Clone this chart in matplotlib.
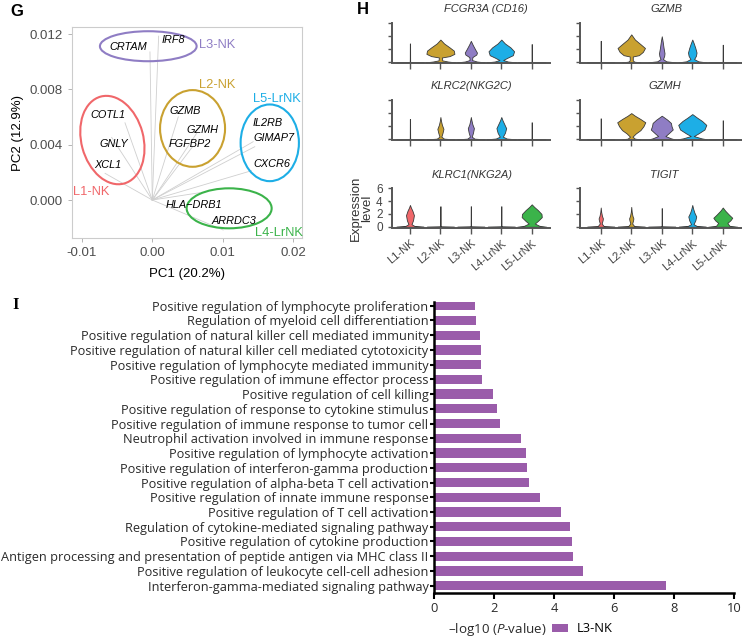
import numpy as np
import matplotlib
matplotlib.use("Agg")
import matplotlib.pyplot as plt
from matplotlib.patches import Ellipse, Patch
from matplotlib.transforms import ScaledTranslation

plt.rcParams['font.family'] = ['Liberation Sans', 'DejaVu Sans']
plt.rcParams['axes.unicode_minus'] = False
plt.rcParams['mathtext.fontset'] = 'custom'
plt.rcParams['mathtext.rm'] = 'Open Sans'
plt.rcParams['mathtext.it'] = 'Open Sans:italic'

# ---------------- data: panel G (PCA biplot) ----------------
genes = ["CRTAM", "IRF8", "COTL1", "GNLY", "XCL1", "GZMB", "GZMH", "FGFBP2",
         "IL2RB", "GIMAP7", "CXCR6", "HLA\u2212DRB1", "ARRDC3"]
gene_pc1 = [-0.00033, 0.0009, -0.00388, -0.00577, -0.00671, 0.00369, 0.00629,
            0.00572, 0.01433, 0.01456, 0.01409, 0.00676, 0.01007]
gene_pc2 = [0.01072, 0.01186, 0.00559, 0.00453, 0.00193, 0.00602, 0.00482,
            0.00386, 0.00422, 0.00386, 0.00212, 0.00053, -0.00217]

groups = ["L1-NK", "L2-NK", "L3-NK", "L4-LrNK", "L5-LrNK"]
# colours as used in the PCA panel and in the violin panel (they differ for L4/L5)
pca_colors = ["#F0676A", "#C9A130", "#8F7DC4", "#3BB34A", "#1DAEE6"]
vln_colors = ["#F0676A", "#C9A130", "#8F7DC4", "#1DAEE6", "#3BB34A"]

# ---------------- data: panel H (violin profiles: (level, half width)) ----------------
def zero(top):
    return [(0, 0.45), (0.05, 0.03), (0.12, 0.006), (top, 0.004)]

vln_fcgr3a = [
    zero(2.9),
    [(0, 0.48), (0.12, 0.25), (0.3, 0.06), (0.75, 0.05), (0.95, 0.3), (1.3, 0.46), (1.8, 0.44), (2.3, 0.3), (2.9, 0.12), (3.5, 0)],
    [(0, 0.45), (0.12, 0.2), (0.35, 0.04), (0.8, 0.05), (1.2, 0.18), (1.5, 0.2), (2.0, 0.14), (2.7, 0.06), (3.3, 0)],
    [(0, 0.48), (0.12, 0.22), (0.35, 0.06), (0.7, 0.2), (1.1, 0.38), (1.7, 0.42), (2.3, 0.3), (2.9, 0.12), (3.5, 0)],
    zero(2.8),
]
vln_klrc2 = [
    zero(3.1),
    [(0, 0.45), (0.1, 0.12), (0.4, 0.03), (1.0, 0.07), (1.6, 0.1), (2.2, 0.05), (2.8, 0.02), (3.4, 0)],
    [(0, 0.45), (0.1, 0.12), (0.4, 0.03), (1.0, 0.07), (1.7, 0.1), (2.3, 0.05), (2.9, 0.02), (3.4, 0)],
    [(0, 0.48), (0.12, 0.18), (0.4, 0.05), (1.0, 0.12), (1.7, 0.16), (2.3, 0.1), (2.9, 0.04), (3.4, 0)],
    zero(2.6),
]
vln_klrc1 = [
    [(0, 0.45), (0.12, 0.15), (0.4, 0.05), (1.0, 0.1), (1.8, 0.13), (2.5, 0.08), (3.0, 0.03), (3.4, 0)],
    zero(3.2),
    zero(3.2),
    zero(3.2),
    [(0, 0.48), (0.15, 0.25), (0.5, 0.1), (0.9, 0.2), (1.5, 0.33), (2.0, 0.32), (2.6, 0.2), (3.1, 0.08), (3.5, 0)],
]
vln_gzmb = [
    zero(3.3),
    [(0, 0.3), (0.1, 0.1), (0.3, 0.05), (0.9, 0.05), (1.1, 0.25), (1.6, 0.38), (2.2, 0.45), (2.8, 0.3), (3.5, 0.12), (4.3, 0)],
    [(0, 0.45), (0.15, 0.15), (0.5, 0.04), (1.0, 0.08), (1.4, 0.09), (2.2, 0.06), (3.2, 0.03), (4.0, 0)],
    [(0, 0.45), (0.15, 0.2), (0.5, 0.06), (1.0, 0.12), (1.5, 0.14), (2.2, 0.1), (2.9, 0.05), (3.5, 0)],
    zero(2.7),
]
vln_gzmh = [
    zero(3.2),
    [(0, 0.3), (0.1, 0.12), (0.4, 0.04), (0.9, 0.15), (1.4, 0.3), (2.0, 0.4), (2.6, 0.46), (3.1, 0.3), (3.6, 0.12), (4.0, 0)],
    [(0, 0.42), (0.15, 0.3), (0.5, 0.12), (0.9, 0.22), (1.5, 0.36), (2.0, 0.32), (2.5, 0.3), (3.0, 0.18), (3.6, 0)],
    [(0, 0.48), (0.15, 0.3), (0.5, 0.05), (0.9, 0.2), (1.5, 0.4), (2.2, 0.46), (2.8, 0.32), (3.3, 0.16), (3.85, 0)],
    zero(2.9),
]
vln_tigit = [
    [(0, 0.45), (0.1, 0.1), (0.5, 0.03), (1.0, 0.06), (1.3, 0.07), (1.7, 0.04), (2.3, 0.015), (3.0, 0)],
    [(0, 0.45), (0.1, 0.1), (0.5, 0.03), (1.0, 0.06), (1.3, 0.07), (1.7, 0.04), (2.3, 0.015), (3.1, 0)],
    zero(2.9),
    [(0, 0.45), (0.12, 0.15), (0.4, 0.04), (1.0, 0.1), (1.6, 0.13), (2.2, 0.07), (2.8, 0.03), (3.4, 0)],
    [(0, 0.48), (0.15, 0.22), (0.6, 0.15), (1.0, 0.25), (1.4, 0.31), (1.9, 0.2), (2.5, 0.08), (3.0, 0)],
]
vln_titles = ["FCGR3A (CD16)", "KLRC2(NKG2C)", "KLRC1(NKG2A)", "GZMB", "GZMH", "TIGIT"]
vln_data = [vln_fcgr3a, vln_klrc2, vln_klrc1, vln_gzmb, vln_gzmh, vln_tigit]

# ---------------- data: panel I (GO enrichment, L3-NK) ----------------
go_terms = [
    "Positive regulation of lymphocyte proliferation",
    "Regulation of myeloid cell differentiation",
    "Positive regulation of natural killer cell mediated immunity",
    "Positive regulation of natural killer cell mediated cytotoxicity",
    "Positive regulation of lymphocyte mediated immunity",
    "Positive regulation of immune effector process",
    "Positive regulation of cell killing",
    "Positive regulation of response to cytokine stimulus",
    "Positive regulation of immune response to tumor cell",
    "Neutrophil activation involved in immune response",
    "Positive regulation of lymphocyte activation",
    "Positive regulation of interferon-gamma production",
    "Positive regulation of alpha-beta T cell activation",
    "Positive regulation of innate immune response",
    "Positive regulation of T cell activation",
    "Regulation of cytokine-mediated signaling pathway",
    "Positive regulation of cytokine production",
    "Antigen processing and presentation of peptide antigen via MHC class II",
    "Positive regulation of leukocyte cell-cell adhesion",
    "Interferon-gamma-mediated signaling pathway",
]
go_logp = [1.38, 1.41, 1.52, 1.58, 1.58, 1.59, 1.96, 2.11, 2.2, 2.9,
           3.07, 3.11, 3.18, 3.54, 4.24, 4.54, 4.58, 4.64, 4.97, 7.73]

W, H = 742, 639
fig = plt.figure(figsize=(W / 100, H / 100), dpi=100)


def fbox(left, top, right, bottom):
    return [left / W, 1 - bottom / H, (right - left) / W, (bottom - top) / H]


# ================= Panel G =================
axg = fig.add_axes(fbox(71.7, 27.3, 302, 238.3))
axg.set_xlim(-0.01145, 0.02127)
axg.set_ylim(-0.00277, 0.0125)
for s in axg.spines.values():
    s.set_color("#cccccc")
    s.set_linewidth(0.8)
axg.set_xticks([-0.01, 0.0, 0.01, 0.02])
axg.set_xticklabels(["-0.01", "0.00", "0.01", "0.02"])
axg.set_yticks([0.0, 0.004, 0.008, 0.012])
axg.set_yticklabels(["0.000", "0.004", "0.008", "0.012"])
axg.tick_params(colors="#4d4d4d", labelsize=9.5, length=3, width=0.6)
axg.tick_params(axis="both", color="#aaaaaa")
axg.set_xlabel("PC1 (20.2%)", fontsize=9.5, labelpad=6)
axg.set_ylabel("PC2 (12.9%)", fontsize=9.5, labelpad=4)

for x, y in zip(gene_pc1, gene_pc2):
    axg.plot([0, x], [0, y], color="#cfcfcf", lw=0.6, zorder=1)

label_offsets = [(-22, 5), (15, -4), (-17, 8), (2, -7), (3, 8), (7, 6), (6, 3),
                 (-3, 3), (14, 19), (19, 9), (20, 7), (-6, -12), (11, 9)]
for g, x, y, (dx, dy) in zip(genes, gene_pc1, gene_pc2, label_offsets):
    axg.annotate(g, (x, y), xytext=(dx * 0.72, dy * 0.72), textcoords="offset points",
                 ha="center", va="center", fontsize=7.8, style="italic", zorder=3)

# ellipses: centre (data), width/height (px), angle
ellipses = [((-0.00567, 0.00434), 62, 90, 15),
            ((0.00572, 0.00518), 65, 76.7, 0),
            ((-0.00057, 0.01113), 96.7, 30, 0),
            ((0.01092, -0.0006), 85, 40, 0),
            ((0.01669, 0.00414), 58.3, 76.7, 0)]
for (c, w, h, a), col in zip(ellipses, pca_colors):
    tr = fig.dpi_scale_trans + ScaledTranslation(c[0], c[1], axg.transData)
    axg.add_patch(Ellipse((0, 0), w / 100, h / 100, angle=a, transform=tr,
                          fill=False, edgecolor=col, lw=1.5, zorder=2))

group_label_pos = [(-0.0112, 0.0006), (0.00667, 0.00836), (0.00662, 0.0112),
                   (0.01456, -0.0024), (0.01433, 0.0073)]
for g, (x, y), col in zip(groups, group_label_pos, pca_colors):
    axg.text(x, y, g, color=col, fontsize=9.3, ha="left", va="center", clip_on=False)

fig.text(10 / W, 1 - 12 / H, "G", fontsize=12, fontweight="bold", va="center")

# ================= Panel H =================
col_x = [(391.7, 550.0, -0.6, 4.6), (580.0, 741.7, -0.68, 4.62)]
row_y = [(23.3, 63.3), (100.0, 140.3), (188.3, 227.7)]
title_x = [0.596, 0.507, 0.507, 0.536, 0.522, 0.518]
for k, (title, vdata) in enumerate(zip(vln_titles, vln_data)):
    ci, ri = k // 3, k % 3
    l, r, xl, xr = col_x[ci]
    t, b = row_y[ri]
    ax = fig.add_axes(fbox(l, t, r, b))
    for i, (knots, col) in enumerate(zip(vdata, vln_colors)):
        ys = np.array([p[0] for p in knots])
        ws = np.array([p[1] for p in knots])
        ax.fill_betweenx(ys, i - ws, i + ws, facecolor=col, edgecolor="#3a3a3a",
                         lw=0.6, zorder=2)
    ax.set_xlim(xl, xr)
    ax.set_ylim(-0.15, 6)
    for s in ["top", "right"]:
        ax.spines[s].set_visible(False)
    for s in ["left", "bottom"]:
        ax.spines[s].set_color("#555555")
        ax.spines[s].set_linewidth(1.4)
    ax.spines["left"].set_bounds(0, 6)
    ax.set_yticks([0, 2, 4, 6])
    ax.set_xticks(range(5))
    ax.tick_params(color="#555555", width=1.0, length=3, labelsize=8.5,
                   labelcolor="#444444")
    ax.tick_params(axis="x", length=4)
    ax.text(title_x[k], 1 + 14 / 40, title, transform=ax.transAxes, ha="center",
            va="center", fontsize=8, style="italic", color="#333333")
    if ri == 2:
        ax.set_xticklabels(groups, rotation=40, ha="right", rotation_mode="anchor",
                           fontsize=8)
    else:
        ax.set_xticklabels([])
    if ri == 2 and ci == 0:
        ax.set_ylabel("Expression\nlevel", fontsize=9.5, color="#333333",
                      labelpad=2, linespacing=0.95)
    else:
        ax.set_yticklabels([])

fig.text(363 / W, 1 - 9 / H, "H", fontsize=12, fontweight="bold", va="center",
         ha="center")

# ================= Panel I =================
axi = fig.add_axes(fbox(434, 301.7, 734.3, 592.7))
ypos = np.arange(len(go_terms))[::-1]
axi.barh(ypos, go_logp, height=0.63, color="#9a5caa", zorder=2)
axi.set_xlim(0, 10)
axi.set_ylim(-0.475, len(go_terms) - 1 + 0.27)
axi.set_yticks(ypos)
axi.set_yticklabels(go_terms, fontsize=9.2, family="Open Sans", color="#2a2a2a")
axi.set_xticks([0, 2, 4, 6, 8, 10])
axi.set_xticklabels(["0", "2", "4", "6", "8", "10"], family="Open Sans",
                    fontsize=9.3, color="#2a2a2a")
for s in ["top", "right"]:
    axi.spines[s].set_visible(False)
for s in ["left", "bottom"]:
    axi.spines[s].set_linewidth(1.8)
axi.tick_params(axis="y", length=3, width=1.5, pad=1)
axi.tick_params(axis="x", length=4, width=1.5, pad=3)

fig.text(497 / W, 1 - 630 / H, "\u2013log10 ($\\mathit{P}$-value)", family="Open Sans",
         fontsize=9.6, ha="center", va="center", color="#2a2a2a")
fig.legend(handles=[Patch(facecolor="#9a5caa", label="L3-NK")], loc="center left",
           bbox_to_anchor=(552 / W, 1 - 629 / H), frameon=False,
           prop={"family": "Open Sans", "size": 9.3}, handlelength=1.25,
           handleheight=0.5, handletextpad=0.65, borderaxespad=0, borderpad=0)

fig.text(12 / W, 1 - 305 / H, "I", fontsize=12, fontweight="bold",
         family="Liberation Serif", va="center")

fig.savefig("out.png", dpi=100)
